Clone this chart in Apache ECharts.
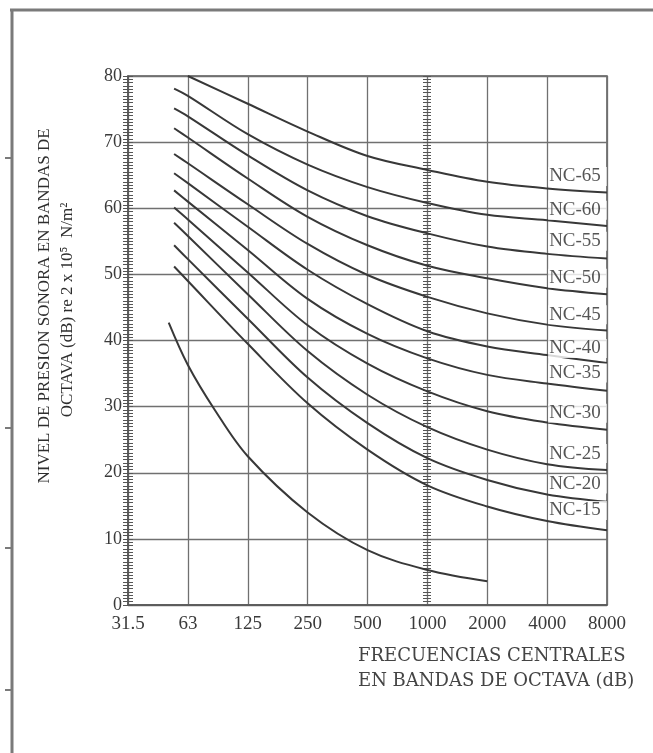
<!DOCTYPE html>
<html>
<head>
<meta charset="utf-8">
<script src="https://cdn.jsdelivr.net/npm/echarts@6/dist/echarts.min.js"></script>
<style>
html,body{margin:0;padding:0;background:#fff;}
#chart{width:653px;height:753px;}
</style>
</head>
<body>
<div id="chart"></div>
<script>
// Tick labels (octave band centre frequencies), positioned by octave index 0..8
const freqLabels = ['31.5', '63', '125', '250', '500', '1000', '2000', '4000', '8000'];
const yTicks = [0, 10, 20, 30, 40, 50, 60, 70, 80];

// x positions (octave index from 31.5 Hz) of the read points
const ncX   = [0.77, 1, 2, 3, 4, 5, 6, 7, 8];
const nc65X = [1, 2, 3, 4, 5, 6, 7, 8];
const baseX = [0.68, 1, 1.45, 2, 3, 4, 5, 6];

// Curve values (dB)
const nc65 = [80, 75.8, 71.6, 67.9, 65.8, 64.0, 63.0, 62.4];
const nc60 = [78.1, 77, 71.2, 66.6, 63.2, 60.8, 59.0, 58.2, 57.3];
const nc55 = [75.1, 73.9, 68, 62.7, 58.8, 56.2, 54.2, 53.1, 52.4];
const nc50 = [72.1, 70.7, 64.5, 58.7, 54.4, 51.3, 49.4, 47.9, 47.0];
const nc45 = [68.2, 66.8, 60.6, 54.6, 49.9, 46.6, 44.1, 42.4, 41.5];
const nc40 = [65.3, 63.8, 57.2, 50.7, 45.5, 41.4, 39.1, 37.8, 36.6];
const nc35 = [62.7, 61, 53.7, 46.3, 41.0, 37.3, 34.8, 33.5, 32.4];
const nc30 = [60.1, 58.3, 50.3, 42.3, 36.5, 32.3, 29.3, 27.6, 26.5];
const nc25 = [57.8, 55.8, 47, 38.4, 31.8, 26.9, 23.5, 21.3, 20.4];
const nc20 = [54.4, 52.3, 43.3, 34.4, 27.5, 22.2, 18.9, 16.7, 15.6];
const nc15 = [51.2, 49, 39.5, 30.5, 23.5, 18.1, 14.9, 12.7, 11.3];
const base = [42.7, 36.3, 29.5, 22.5, 14, 8.3, 5.3, 3.6];

// Curve labels and the level at which each label sits
const ncNames  = ['NC-65', 'NC-60', 'NC-55', 'NC-50', 'NC-45', 'NC-40', 'NC-35', 'NC-30', 'NC-25', 'NC-20', 'NC-15'];
const ncLabelY = [64.8, 59.7, 55.0, 49.4, 43.9, 38.8, 35.1, 29.0, 22.9, 18.3, 14.3];
const ncLabelX = 7;

const curves = [
  ['NC-65', nc65X, nc65], ['NC-60', ncX, nc60], ['NC-55', ncX, nc55], ['NC-50', ncX, nc50],
  ['NC-45', ncX, nc45], ['NC-40', ncX, nc40], ['NC-35', ncX, nc35], ['NC-30', ncX, nc30],
  ['NC-25', ncX, nc25], ['NC-20', ncX, nc20], ['NC-15', ncX, nc15], ['base', baseX, base]
];

const serif = 'Liberation Serif';
const ink = '#383838';

const series = curves.map(([name, xs, ys]) => ({
  type: 'line', name: name, xAxisIndex: 0, yAxisIndex: 0,
  data: xs.map((x, i) => [x, ys[i]]),
  smooth: 0.35, showSymbol: false, symbol: 'none', silent: true,
  lineStyle: { color: ink, width: 2 }, z: 3
}));

series.push({
  type: 'scatter', name: 'labels', xAxisIndex: 0, yAxisIndex: 0,
  data: ncNames.map((n, i) => ({ name: n, value: [ncLabelX, ncLabelY[i]] })),
  symbolSize: 0, silent: true, z: 10,
  label: {
    show: true, position: 'right', distance: 1, formatter: p => p.name,
    fontFamily: serif, fontSize: 19, color: '#2a2a2a',
    backgroundColor: '#fff', padding: [1, 6, 0, 1], lineHeight: 18
  }
});

const yBase = { type: 'value', min: 0, max: 80, interval: 10 };
const tickStyle = { color: '#555', width: 1 };

const option = {
  animation: false,
  backgroundColor: '#fff',
  grid: { left: 128, top: 76, right: 46, bottom: 148, show: true, borderColor: '#555', borderWidth: 1.5, backgroundColor: 'transparent' },
  xAxis: [{
    type: 'value', min: 0, max: 8, interval: 1,
    axisLine: { show: true, lineStyle: { color: '#555', width: 1.5 } },
    axisTick: { show: false },
    splitLine: { show: true, lineStyle: { color: '#707070', width: 1.3 } },
    axisLabel: { formatter: v => freqLabels[v], fontFamily: serif, fontSize: 19, color: '#3a3a3a', margin: 10 }
  }],
  yAxis: [
    Object.assign({}, yBase, {
      position: 'left',
      axisLine: { show: true, lineStyle: { color: '#555', width: 1.5 } },
      axisTick: { show: true, length: 5, lineStyle: tickStyle },
      minorTick: { show: true, splitNumber: 20, length: 5, lineStyle: tickStyle },
      splitLine: { show: true, lineStyle: { color: '#707070', width: 1.3 } },
      axisLabel: { formatter: v => String(v), fontFamily: serif, fontSize: 18, color: '#3a3a3a', margin: 6 }
    }),
    Object.assign({}, yBase, {
      position: 'left',
      axisLine: { show: false },
      axisTick: { show: true, inside: true, length: 5, lineStyle: tickStyle },
      minorTick: { show: true, splitNumber: 20, length: 5, lineStyle: tickStyle },
      splitLine: { show: false }, axisLabel: { show: false }
    }),
    Object.assign({}, yBase, {
      position: 'left', offset: -299,
      axisLine: { show: false },
      axisTick: { show: true, length: 4, lineStyle: tickStyle },
      minorTick: { show: true, splitNumber: 20, length: 4, lineStyle: tickStyle },
      splitLine: { show: false }, axisLabel: { show: false }
    }),
    Object.assign({}, yBase, {
      position: 'left', offset: -299,
      axisLine: { show: false },
      axisTick: { show: true, inside: true, length: 4, lineStyle: tickStyle },
      minorTick: { show: true, splitNumber: 20, length: 4, lineStyle: tickStyle },
      splitLine: { show: false }, axisLabel: { show: false }
    })
  ],
  series: series,
  graphic: [
    { type: 'line', shape: { x1: 10, y1: 10, x2: 653, y2: 10 }, style: { stroke: '#7a7a7a', lineWidth: 3 }, silent: true },
    { type: 'line', shape: { x1: 12, y1: 9, x2: 12, y2: 753 }, style: { stroke: '#7a7a7a', lineWidth: 3 }, silent: true },
    { type: 'line', shape: { x1: 5, y1: 158, x2: 12, y2: 158 }, style: { stroke: '#7a7a7a', lineWidth: 2 }, silent: true },
    { type: 'line', shape: { x1: 5, y1: 428, x2: 12, y2: 428 }, style: { stroke: '#7a7a7a', lineWidth: 2 }, silent: true },
    { type: 'line', shape: { x1: 5, y1: 548, x2: 12, y2: 548 }, style: { stroke: '#7a7a7a', lineWidth: 2 }, silent: true },
    { type: 'line', shape: { x1: 5, y1: 690, x2: 12, y2: 690 }, style: { stroke: '#7a7a7a', lineWidth: 2 }, silent: true },
    {
      type: 'text', x: 45, y: 306, rotation: Math.PI / 2, silent: true,
      style: { text: 'NIVEL DE PRESION SONORA EN BANDAS DE', font: '17px "Liberation Serif"', fill: '#2e2e2e', textAlign: 'center', textVerticalAlign: 'middle' }
    },
    {
      type: 'text', x: 68, y: 310, rotation: Math.PI / 2, silent: true,
      style: { text: 'OCTAVA (dB) re 2 x 10\u2075  N/m\u00B2', font: '17px "Liberation Serif"', fill: '#2e2e2e', textAlign: 'center', textVerticalAlign: 'middle' }
    },
    {
      type: 'text', x: 358, y: 656, silent: true,
      style: { text: 'FRECUENCIAS CENTRALES', font: '18px "DejaVu Serif"', fill: '#444', textAlign: 'left', textVerticalAlign: 'middle' }
    },
    {
      type: 'text', x: 358, y: 681, silent: true,
      style: { text: 'EN BANDAS DE OCTAVA (dB)', font: '18px "DejaVu Serif"', fill: '#444', textAlign: 'left', textVerticalAlign: 'middle' }
    }
  ]
};

const chart = echarts.init(document.getElementById('chart'), null, { renderer: 'canvas' });
chart.setOption(option);
</script>
</body>
</html>
